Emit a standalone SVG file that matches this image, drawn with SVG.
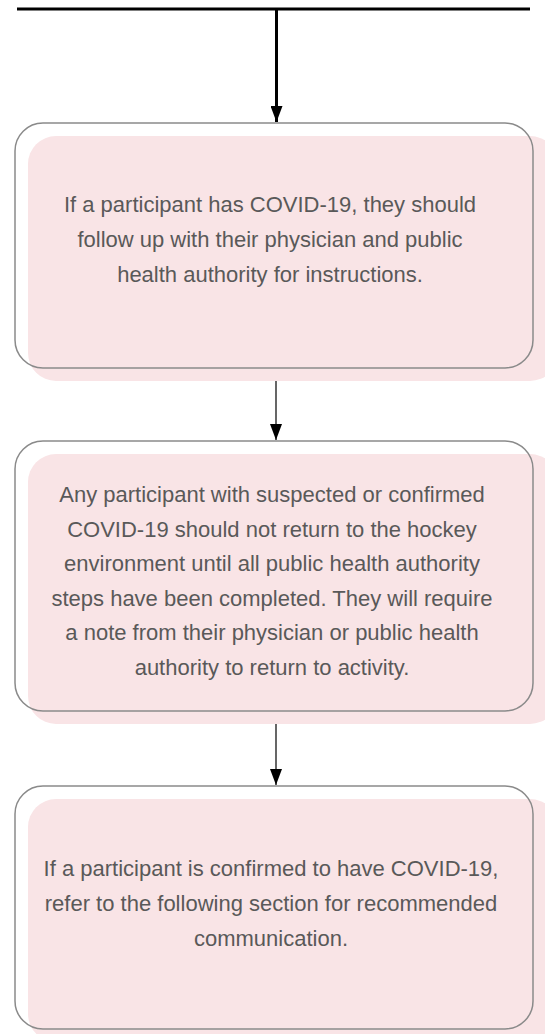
<svg xmlns="http://www.w3.org/2000/svg" width="545" height="1034" viewBox="0 0 545 1034">
<style>
.shadow{fill:#f9e4e6;stroke:none}
.box{fill:none;stroke:#8a8a8a;stroke-width:1.5}
.t{font-family:"Liberation Sans",Arial,sans-serif;font-size:22px;fill:#595959;text-anchor:middle}
.c{stroke:#000;fill:none}
</style>
<defs>
<marker id="ah2" viewBox="0 0 16 12" refX="16" refY="6" markerWidth="16" markerHeight="12" markerUnits="userSpaceOnUse" orient="auto">
<path d="M0,0 L16,6 L0,12 Z" fill="#000"/>
</marker>
</defs>
<rect width="545" height="1034" fill="#fff"/>
<g id="connectors">
<line class="c" x1="17" y1="9" x2="530" y2="9" stroke-width="3"/>
<line class="c" x1="276.5" y1="9" x2="276.5" y2="122" stroke-width="3" marker-end="url(#ah2)"/>
<line class="c" x1="276" y1="368" x2="276" y2="440" stroke-width="1.2" marker-end="url(#ah2)"/>
<line class="c" x1="276" y1="711" x2="276" y2="785" stroke-width="1.2" marker-end="url(#ah2)"/>
</g>
<g id="node1">
<rect class="shadow" x="28" y="136" width="530" height="245" rx="28"/>
<rect class="box" x="15" y="123" width="518" height="245" rx="28"/>
<text class="t" x="270" y="212">If a participant has COVID-19, they should</text>
<text class="t" x="270" y="246.5">follow up with their physician and public</text>
<text class="t" x="270" y="281.5">health authority for instructions.</text>
</g>
<g id="node2">
<rect class="shadow" x="28" y="454" width="530" height="270" rx="28"/>
<rect class="box" x="15" y="441" width="518" height="270" rx="28"/>
<text class="t" x="272" y="502">Any participant with suspected or confirmed</text>
<text class="t" x="272" y="536.5">COVID-19 should not return to the hockey</text>
<text class="t" x="272" y="571">environment until all public health authority</text>
<text class="t" x="272" y="605.5">steps have been completed. They will require</text>
<text class="t" x="272" y="640">a note from their physician or public health</text>
<text class="t" x="272" y="674.5">authority to return to activity.</text>
</g>
<g id="node3">
<rect class="shadow" x="28" y="799" width="530" height="243" rx="28"/>
<rect class="box" x="15" y="786" width="518" height="243" rx="28"/>
<text class="t" x="271" y="876">If a participant is confirmed to have COVID-19,</text>
<text class="t" x="271" y="911">refer to the following section for recommended</text>
<text class="t" x="271" y="945.5">communication.</text>
</g>
</svg>
